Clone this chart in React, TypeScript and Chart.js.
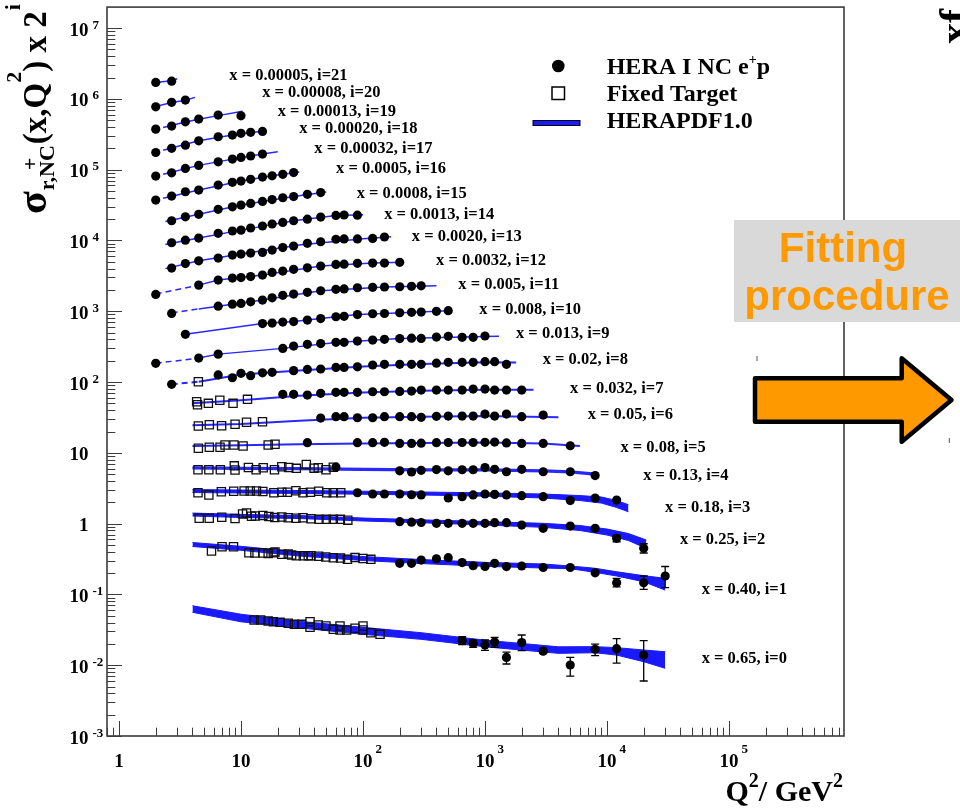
import React, { useEffect, useRef } from 'react';
import { Chart, registerables } from 'chart.js';

Chart.register(...registerables);

// ---------- axis ranges ----------
const X_MIN = 0.797;
const X_MAX = 8.77e5;
const Y_MIN = 1e-3;
const Y_MAX = 1.98e7;
const X_DECADES = [0, 1, 2, 3, 4, 5];
const Y_DECADES = [-3, -2, -1, 0, 1, 2, 3, 4, 5, 6, 7];

// ---------- HERA I NC e+p points: [Q2, sigma_r x 2^i] ----------
const hera0 = [[650, 0.0223], [800, 0.0203], [1000, 0.0193], [1200, 0.0213], [1500, 0.0129], [2000, 0.0209], [3000, 0.0158], [5000, 0.01007], [8000, 0.0168], [12000, 0.0171], [20000, 0.0139]];
const hera1 = [[200, 0.275], [250, 0.275], [300, 0.306], [400, 0.319], [500, 0.33], [650, 0.282], [800, 0.254], [1000, 0.248], [1200, 0.275], [1500, 0.247], [2000, 0.252], [3000, 0.24], [5000, 0.24], [8000, 0.202], [12000, 0.146], [20000, 0.146], [30000, 0.182]];
const hera2 = [[200, 1.064], [250, 1.047], [300, 1.037], [400, 1.01], [500, 1.01], [650, 1.01], [800, 1.01], [1000, 1.01], [1200, 1.03], [1500, 1.03], [2000, 0.955], [3000, 0.859], [5000, 0.925], [8000, 0.859], [12000, 0.62], [20000, 0.448]];
const hera3 = [[90, 2.73], [120, 2.62], [150, 2.62], [200, 2.62], [250, 2.56], [300, 2.54], [500, 2.3], [650, 2.4], [800, 2.54], [1000, 2.62], [1200, 2.59], [1500, 2.54], [2000, 2.48], [3000, 2.4], [5000, 2.12], [8000, 2.3], [12000, 2.15]];
const hera4 = [[60, 6.3], [200, 5.57], [250, 5.36], [300, 5.66], [400, 5.81], [500, 5.57], [650, 5.77], [800, 5.77], [1000, 6.2], [1200, 5.85], [1500, 5.41], [2000, 5.85], [3000, 5.41], [5000, 5.41], [8000, 4.78]];
const hera5 = [[35, 13.9], [90, 13.9], [120, 13.9], [150, 14.1], [200, 13.6], [250, 13.6], [300, 13.7], [400, 13.9], [500, 14.0], [650, 14.0], [800, 14.0], [1000, 14.1], [1200, 14.2], [1500, 13.8], [2000, 13.6], [3000, 13.6], [5000, 12.6]];
const hera6 = [[45, 31.0], [60, 32.4], [70, 32.4], [90, 31.3], [120, 31.3], [150, 32.4], [200, 32.4], [250, 32.4], [300, 31.7], [400, 32.8], [500, 33.1], [650, 33.1], [800, 33.1], [1000, 35.3], [1200, 33.1], [1500, 35.3], [2000, 32.4], [3000, 34.2]];
const hera7 = [[22, 67.0], [27, 67.0], [35, 65.5], [45, 69.2], [60, 71.5], [70, 71.5], [90, 71.5], [120, 72.9], [150, 72.9], [200, 73.8], [250, 74.6], [300, 77.1], [400, 77.1], [500, 77.1], [650, 77.1], [800, 79.6], [1000, 79.6], [1200, 77.1], [1500, 77.1], [2000, 77.1]];
const hera8 = [[2.7, 92.9], [6.5, 126], [8.5, 115], [10, 133], [12, 123], [15, 135], [18, 137], [27, 145], [35, 151], [45, 153], [60, 161], [70, 161], [90, 164], [120, 174], [150, 178], [200, 178], [250, 178], [300, 178], [400, 185], [500, 190], [650, 190], [800, 190], [1000, 194], [1200, 194], [1500, 178]];
const hera9 = [[2, 184], [4.5, 218], [6.5, 248], [22, 299], [27, 322], [35, 341], [45, 350], [60, 364], [70, 364], [90, 379], [120, 392], [150, 401], [200, 411], [250, 416], [300, 413], [400, 432], [500, 442], [650, 428], [800, 428], [1000, 447]];
const hera10 = [[3.5, 472], [15, 670], [18, 681], [22, 703], [27, 716], [35, 751], [45, 789], [60, 836], [70, 847], [90, 898], [120, 922], [150, 930], [200, 953], [250, 966], [300, 975], [400, 997], [500, 1020]];
const hera11 = [[2.7, 933], [6.5, 1180], [8.5, 1260], [10, 1290], [12, 1360], [15, 1440], [18, 1550], [22, 1680], [27, 1750], [35, 1850], [45, 1950], [60, 2040], [70, 2070], [90, 2150], [120, 2180], [150, 2200], [200, 2220], [250, 2250], [300, 2290]];
const hera12 = [[2, 1730], [4.5, 2340], [6.5, 2760], [8.5, 2940], [10, 2990], [12, 3090], [15, 3240], [18, 3540], [22, 3700], [27, 3910], [35, 4110], [45, 4350], [60, 4590], [70, 4630], [90, 4750], [120, 4790], [150, 4790], [200, 4910]];
const hera13 = [[2.7, 4070], [3.5, 4720], [4.5, 5160], [6.5, 5640], [8.5, 6220], [10, 6430], [12, 6640], [15, 6790], [18, 7310], [22, 7940], [27, 8340], [35, 9100], [45, 9590], [60, 10400], [70, 10500], [90, 10500], [120, 10700], [150, 11200]];
const hera14 = [[2.7, 9290], [3.5, 10100], [4.5, 10800], [6.5, 12600], [8.5, 13600], [10, 14000], [12, 15000], [15, 16000], [18, 17100], [22, 18000], [27, 19000], [35, 20000], [45, 21400], [60, 22600], [70, 22900], [90, 22800]];
const hera15 = [[2.7, 19000], [3.5, 21600], [4.5, 23400], [6.5, 27500], [8.5, 29900], [10, 31600], [12, 33400], [15, 35600], [18, 37800], [22, 40100], [27, 41700], [35, 44800], [45, 47500]];
const hera16 = [[2, 37200], [2.7, 42400], [3.5, 48800], [4.5, 51500], [6.5, 60600], [8.5, 66200], [10, 69000], [12, 73000], [15, 78600], [18, 82000], [22, 85900], [27, 91000]];
const hera17 = [[2, 81300], [2.7, 90400], [3.5, 104000], [4.5, 115000], [6.5, 129000], [8.5, 141000], [10, 149000], [12, 156000], [15, 166000]];
const hera18 = [[2, 175000], [2.7, 200000], [3.5, 222000], [4.5, 256000], [6.5, 292000], [8.5, 308000], [10, 326000], [12, 337000], [15, 347000]];
const hera19 = [[2, 374000], [2.7, 413000], [3.5, 475000], [4.5, 519000], [6.5, 590000], [10, 577000]];
const hera20 = [[2, 773000], [2.7, 893000], [3.5, 962000]];
const hera21 = [[2, 1710000], [2.7, 1780000]];

// ---------- error bars: [Q2, low, high] ----------
const err0 = [[650, 0.0196, 0.0253], [800, 0.0179, 0.0227], [1000, 0.0162, 0.0227], [1200, 0.0179, 0.0248], [1500, 0.0104, 0.0153], [2000, 0.0161, 0.0267], [3000, 0.0147, 0.0173], [5000, 0.00703, 0.0129], [8000, 0.0137, 0.0199], [12000, 0.0107, 0.0238], [20000, 0.00598, 0.0222]];
const err1 = [[12000, 0.128, 0.168], [20000, 0.118, 0.182], [30000, 0.125, 0.248]];
const err2 = [[12000, 0.555, 0.69], [20000, 0.385, 0.52]];

// ---------- Fixed target points: [Q2, sigma_r x 2^i] ----------
const ft0 = [[12.8, 0.0435], [14.5, 0.0435], [16.7, 0.0421], [18.4, 0.0411], [20.9, 0.0403], [24.4, 0.0391], [27.4, 0.0378], [31.4, 0.0378], [36.8, 0.0411], [36.8, 0.0343], [43.0, 0.037], [49.7, 0.0358], [57.1, 0.0321], [64.8, 0.0358], [64.8, 0.0314], [73.5, 0.0314], [86.0, 0.0332], [100, 0.0358], [100, 0.0314], [116, 0.0288], [138, 0.0273]];
const ft1 = [[5.73, 0.41], [6.99, 0.472], [8.68, 0.472], [11.6, 0.388], [13.0, 0.384], [15.1, 0.384], [16.7, 0.38], [18.4, 0.388], [19.0, 0.399], [21.6, 0.37], [24.4, 0.372], [26.0, 0.36], [28.4, 0.351], [32.4, 0.352], [35.6, 0.352], [37.5, 0.352], [43.3, 0.346], [49.5, 0.337], [57.1, 0.329], [65.4, 0.326], [74.6, 0.313], [86.0, 0.331], [100, 0.322], [116, 0.313]];
const ft2 = [[4.54, 1.19], [5.49, 1.19], [6.95, 1.23], [8.93, 1.18], [10.3, 1.37], [11.1, 1.41], [12.2, 1.27], [13.1, 1.28], [15.1, 1.3], [16.9, 1.26], [18.9, 1.22], [21.6, 1.24], [24.4, 1.21], [28.2, 1.19], [32.2, 1.21], [37.5, 1.17], [43.6, 1.15], [50.0, 1.15], [57.1, 1.15], [65.2, 1.15], [75.1, 1.12]];
const ft3 = [[4.44, 2.73], [5.45, 2.54], [6.9, 2.82], [8.71, 2.87], [10.6, 2.89], [11.9, 2.89], [13.4, 2.89], [15.1, 2.84], [18.6, 2.73], [21.6, 2.78], [24.0, 2.78], [28.2, 2.91], [32.2, 2.73], [37.1, 2.77], [43.3, 2.86], [50.4, 2.73], [57.1, 2.73], [65.7, 2.73]];
const ft4 = [[4.44, 5.77], [5.45, 5.77], [6.77, 5.77], [8.81, 6.55], [8.93, 5.71], [11.5, 6.2], [13.3, 5.77], [15.2, 6.17], [18.8, 5.77], [21.6, 6.37], [24.6, 6.2], [28.4, 6.04], [34.3, 6.84], [39.7, 6.08], [43.0, 6.17], [49.7, 5.77], [57.1, 6.25]];
const ft5 = [[4.47, 11.6], [5.5, 12.0], [6.73, 12.0], [7.39, 12.9], [8.76, 12.9], [10.4, 12.5], [16.7, 12.9], [19.0, 13.2]];
const ft6 = [[4.47, 23.9], [5.5, 24.9], [6.93, 24.1], [8.94, 25.3], [11.1, 27.0], [15.0, 27.5]];
const ft7 = [[4.33, 52.7], [4.4, 47.8], [5.4, 50.0], [6.7, 55.2], [8.6, 50.0], [11.3, 57.0]];
const ft8 = [[4.47, 101]];

// ---------- HERAPDF1.0 bands (i = 0..3): Q2, upper, lower ----------
const band0Q2 = [4, 10, 30, 100, 300, 1000, 4000, 8000, 12000, 20000, 30000];
const band0Hi = [0.0692, 0.0525, 0.0418, 0.0343, 0.0288, 0.0226, 0.0182, 0.0183, 0.0177, 0.0164, 0.0155];
const band0Lo = [0.0559, 0.041, 0.0337, 0.0273, 0.0232, 0.0182, 0.0147, 0.015, 0.0139, 0.0112, 0.00904];
const band1Q2 = [4, 10, 30, 100, 300, 1000, 3000, 5000, 8000, 12000, 20000, 30000];
const band1Hi = [0.541, 0.478, 0.397, 0.343, 0.311, 0.284, 0.269, 0.252, 0.234, 0.209, 0.184, 0.169];
const band1Lo = [0.475, 0.42, 0.349, 0.301, 0.273, 0.249, 0.236, 0.231, 0.205, 0.182, 0.151, 0.115];
const band2Q2 = [4, 10, 30, 100, 300, 1000, 3000, 6000, 10000, 15000, 21000];
const band2Hi = [1.41, 1.35, 1.3, 1.2, 1.13, 1.07, 1.01, 0.94, 0.839, 0.725, 0.587];
const band2Lo = [1.28, 1.22, 1.18, 1.09, 1.03, 0.955, 0.887, 0.8, 0.69, 0.577, 0.447];
const band3Q2 = [4, 10, 30, 100, 300, 1000, 3000, 6000, 9000, 12000, 15000];
const band3Hi = [3.03, 2.98, 2.94, 2.87, 2.8, 2.72, 2.62, 2.49, 2.38, 2.12, 1.85];
const band3Lo = [2.75, 2.71, 2.67, 2.6, 2.54, 2.44, 2.3, 2.12, 1.95, 1.69, 1.47];

// ---------- HERAPDF1.0 central curves (i = 4..21): [Q2, value] ----------
const fit4 = [[4, 6.15], [10, 6.05], [30, 6.0], [100, 5.85], [300, 5.75], [1000, 5.75], [3000, 5.55], [5000, 5.4], [8000, 5.0]];
const fit5 = [[4, 12.5], [10, 12.8], [30, 13.2], [100, 13.6], [300, 13.8], [1000, 14.0], [3000, 13.6], [6000, 12.5]];
const fit6 = [[4, 24.5], [10, 25.5], [30, 28.4], [100, 31.3], [300, 32.3], [1000, 33.2], [4000, 31.8]];
const fit7 = [[4, 50], [10, 55.5], [30, 64], [100, 71], [300, 75.5], [1000, 78], [2500, 78]];
const fit8 = [[2.7, 92.9], [4.5, 101], [10, 128], [30, 146], [100, 166], [300, 180], [1000, 190], [1800, 189]];
const fit9 = [[2, 184], [4.5, 218], [6.5, 248], [22, 299], [60, 362], [200, 411], [1000, 440], [1300, 442]];
const fit10 = [[3.5, 472], [15, 670], [27, 716], [45, 789], [90, 898], [150, 930], [500, 1020]];
const fit11 = [[2.7, 950], [4.5, 1080], [6.5, 1180], [15, 1440], [45, 1950], [150, 2200], [400, 2300]];
const fit12 = [[2, 1750], [4.5, 2340], [6.5, 2760], [15, 3240], [45, 4350], [120, 4790], [210, 4920]];
const fit13 = [[2.4, 4000], [4.5, 5160], [10, 6450], [30, 8600], [100, 10600], [170, 11300]];
const fit14 = [[2.4, 8800], [4.5, 10800], [10, 14000], [27, 19000], [60, 22600], [100, 23000]];
const fit15 = [[2.4, 18500], [4.5, 23400], [10, 31600], [27, 41700], [50, 48500]];
const fit16 = [[2.3, 39500], [4.5, 51500], [10, 69000], [18, 82000], [30, 93000]];
const fit17 = [[2.3, 86000], [4.5, 115000], [8.5, 141000], [15, 166000], [20, 179000]];
const fit18 = [[2.3, 188000], [4.5, 256000], [8.5, 308000], [16, 355000]];
const fit19 = [[2.3, 395000], [3.5, 470000], [4.5, 515000], [6.5, 580000], [10.3, 670000]];
const fit20 = [[2, 780000], [2.7, 890000], [3.5, 960000], [4.2, 1050000]];
const fit21 = [[2, 1710000], [2.7, 1800000], [3.0, 1930000]];

// ---------- series labels ----------
const seriesX = ['0.65', '0.40', '0.25', '0.18', '0.13', '0.08', '0.05', '0.032', '0.02', '0.013', '0.008', '0.005', '0.0032', '0.0020', '0.0013', '0.0008', '0.0005', '0.00032', '0.00020', '0.00013', '0.00008', '0.00005'];
const labelQ2 = [59700, 59700, 39600, 29900, 19800, 12900, 6950, 4977, 2972, 1795, 898, 604, 397, 251, 149, 88.8, 60.1, 39.9, 30.0, 20.0, 14.9, 8.02];
const labelVal = [0.01225, 0.115, 0.586, 1.68, 4.7, 11.8, 35.0, 81.5, 205, 476, 1040, 2340, 5160, 11300, 23400, 46200, 104000, 195000, 374000, 658000, 1240000, 2100000];

const legendNames = ['HERA I NC e', 'Fixed Target', 'HERAPDF1.0'];

// ---------- styling ----------
const SERIF = '"Liberation Serif", "Times New Roman", serif';
const LINE = 'rgb(40,40,255)';
const BAND = 'rgb(25,25,250)';
const AXIS = '#3c3c3c';

const HERA = [hera0, hera1, hera2, hera3, hera4, hera5, hera6, hera7, hera8, hera9, hera10, hera11, hera12, hera13, hera14, hera15, hera16, hera17, hera18, hera19, hera20, hera21];
const FITS: (number[][] | null)[] = [null, null, null, null, fit4, fit5, fit6, fit7, fit8, fit9, fit10, fit11, fit12, fit13, fit14, fit15, fit16, fit17, fit18, fit19, fit20, fit21];
const FT = [ft0, ft1, ft2, ft3, ft4, ft5, ft6, ft7, ft8];
const BANDS = [
  { q: band0Q2, hi: band0Hi, lo: band0Lo },
  { q: band1Q2, hi: band1Hi, lo: band1Lo },
  { q: band2Q2, hi: band2Hi, lo: band2Lo },
  { q: band3Q2, hi: band3Hi, lo: band3Lo },
];
const ERRS = [err0, err1, err2];

const pts = (a: number[][]) => a.map(([x, y]) => ({ x, y }));
const zip = (q: number[], v: number[]) => q.map((x, k) => ({ x, y: v[k] }));
const font = (s: number) => `bold ${s}px ${SERIF}`;

function buildDatasets() {
  const ds: any[] = [];
  BANDS.forEach((b) => {
    ds.push({ data: zip(b.q, b.hi), showLine: true, pointRadius: 0, borderColor: BAND, borderWidth: 1, fill: false, order: 5 });
    ds.push({ data: zip(b.q, b.lo), showLine: true, pointRadius: 0, borderColor: BAND, borderWidth: 1, backgroundColor: BAND, fill: '-1', order: 5 });
  });
  FITS.forEach((f, i) => {
    if (!f) return;
    const dashed = i >= 8 && i <= 12;
    ds.push({
      data: pts(f), showLine: true, pointRadius: 0, borderColor: LINE, fill: false, order: 4,
      borderWidth: i === 4 ? 3.2 : i <= 8 ? 2 : 1.5,
      segment: { borderDash: (c: any) => (dashed && c.p1.parsed.x <= 4.55 ? [6, 4] : undefined) },
    });
  });
  FT.forEach((f) => ds.push({ data: pts(f), pointStyle: 'rect', pointRadius: 5.8, borderColor: '#111', borderWidth: 1.3, backgroundColor: 'rgba(255,255,255,0)', order: 2 }));
  HERA.forEach((h) => ds.push({ data: pts(h), pointStyle: 'circle', pointRadius: 4.6, backgroundColor: '#000', borderColor: '#000', borderWidth: 0, order: 1 }));
  return ds;
}

function drawAxes(chart: any) {
  const ctx = chart.ctx;
  const xs = chart.scales.x;
  const ys = chart.scales.y;
  const ca = chart.chartArea;
  ctx.save();
  ctx.strokeStyle = AXIS;
  ctx.lineWidth = 1;
  // x ticks
  for (let k = -1; k <= 6; k++) {
    for (let m = 1; m <= 9; m++) {
      const v = m * Math.pow(10, k);
      if (v < X_MIN || v > X_MAX) continue;
      const px = Math.round(xs.getPixelForValue(v)) + 0.5;
      const len = m === 1 ? 15 : 8.3;
      ctx.beginPath();
      ctx.moveTo(px, ca.bottom);
      ctx.lineTo(px, ca.bottom - len);
      ctx.stroke();
    }
  }
  // y ticks
  for (let k = -3; k <= 7; k++) {
    for (let m = 1; m <= 9; m++) {
      const v = m * Math.pow(10, k);
      if (v < Y_MIN || v > Y_MAX) continue;
      const py = Math.round(ys.getPixelForValue(v)) + 0.5;
      const len = m === 1 ? 15 : 8.3;
      ctx.beginPath();
      ctx.moveTo(ca.left, py);
      ctx.lineTo(ca.left + len, py);
      ctx.stroke();
    }
  }
  // frame
  ctx.lineWidth = 1.6;
  ctx.strokeRect(ca.left, ca.top, ca.right - ca.left, ca.bottom - ca.top);

  // tick labels
  ctx.fillStyle = '#000';
  ctx.textBaseline = 'alphabetic';
  Y_DECADES.forEach((k) => {
    const py = ys.getPixelForValue(Math.pow(10, k));
    ctx.font = font(19);
    ctx.textAlign = 'right';
    ctx.fillText(k === 0 ? '1' : '10', 88.5, py + 7.5);
    if (k !== 0 && k !== 1) {
      ctx.font = font(13);
      ctx.textAlign = 'left';
      ctx.fillText(String(k), 92.5, py + 0.5);
    }
  });
  X_DECADES.forEach((k) => {
    const px = xs.getPixelForValue(Math.pow(10, k));
    ctx.font = font(19);
    ctx.textAlign = 'center';
    ctx.fillText(k === 0 ? '1' : '10', px, 767);
    if (k > 1) {
      ctx.font = font(13);
      ctx.textAlign = 'left';
      ctx.fillText(String(k), px + 12.5, 753);
    }
  });

  // x title: Q^2/ GeV^2, right aligned
  const parts = [
    { t: 'Q', s: 30, dy: 0 },
    { t: '2', s: 20, dy: -14 },
    { t: '/ GeV', s: 30, dy: 0 },
    { t: '2', s: 20, dy: -14 },
  ];
  let w = 0;
  parts.forEach((p) => { ctx.font = font(p.s); w += ctx.measureText(p.t).width; });
  let cx = 843 - w;
  ctx.textAlign = 'left';
  parts.forEach((p) => { ctx.font = font(p.s); ctx.fillText(p.t, cx, 801 + p.dy); cx += ctx.measureText(p.t).width; });

  // y title (rotated)
  ctx.translate(46, 214);
  ctx.rotate(-Math.PI / 2);
  cx = 0;
  ctx.font = font(42);
  ctx.fillText('σ', cx, 0);
  cx += ctx.measureText('σ').width + 1;
  ctx.font = font(22);
  const w2 = ctx.measureText('r,NC').width;
  ctx.fillText('r,NC', cx, 8);
  ctx.fillText('+', cx + 20, -9);
  cx += w2 + 1;
  ctx.font = font(33);
  ctx.fillText('(x,Q', cx, 0);
  cx += ctx.measureText('(x,Q').width;
  ctx.font = font(22);
  ctx.fillText('2', cx, -25);
  cx += ctx.measureText('2').width;
  ctx.font = font(33);
  ctx.fillText(') x 2', cx, 0);
  cx += ctx.measureText(') x 2').width;
  ctx.font = font(22);
  ctx.fillText('i', cx + 1, -26);
  ctx.restore();
}

function drawOverlays(chart: any) {
  const ctx = chart.ctx;
  const xs = chart.scales.x;
  const ys = chart.scales.y;
  ctx.save();
  // error bars
  ctx.strokeStyle = '#000';
  ctx.lineWidth = 1.3;
  ERRS.forEach((e) => {
    e.forEach(([q, lo, hi]) => {
      const px = xs.getPixelForValue(q);
      const y1 = ys.getPixelForValue(lo);
      const y2 = ys.getPixelForValue(hi);
      ctx.beginPath();
      ctx.moveTo(px, y1); ctx.lineTo(px, y2);
      ctx.moveTo(px - 4, y1); ctx.lineTo(px + 4, y1);
      ctx.moveTo(px - 4, y2); ctx.lineTo(px + 4, y2);
      ctx.stroke();
    });
  });

  // series labels
  ctx.fillStyle = '#000';
  ctx.font = font(16.5);
  ctx.textAlign = 'left';
  ctx.textBaseline = 'middle';
  seriesX.forEach((xv, i) => {
    ctx.fillText(`x = ${xv}, i=${i}`, xs.getPixelForValue(labelQ2[i]), ys.getPixelForValue(labelVal[i]));
  });

  // legend
  ctx.textBaseline = 'alphabetic';
  ctx.beginPath();
  ctx.arc(558.3, 66, 6.3, 0, Math.PI * 2);
  ctx.fill();
  ctx.lineWidth = 1.5;
  ctx.strokeStyle = '#000';
  ctx.strokeRect(552, 87, 12.5, 12.5);
  ctx.fillStyle = BAND;
  ctx.fillRect(533, 120.5, 47, 5);
  ctx.lineWidth = 1;
  ctx.strokeRect(533, 120.5, 47, 5);
  ctx.fillStyle = '#000';
  ctx.font = font(24);
  ctx.fillText(legendNames[0], 606.7, 74);
  let lx = 606.7 + ctx.measureText(legendNames[0]).width;
  ctx.font = font(14);
  ctx.fillText('+', lx, 64);
  lx += ctx.measureText('+').width;
  ctx.font = font(24);
  ctx.fillText('p', lx, 74);
  ctx.fillText(legendNames[1], 606.7, 101);
  ctx.fillText(legendNames[2], 606.7, 127.5);
  ctx.restore();
}

function drawSide(chart: any) {
  const ctx = chart.ctx;
  ctx.save();
  // grey box with text
  ctx.fillStyle = '#d9d9d9';
  ctx.fillRect(734, 220, 226, 102);
  ctx.fillStyle = '#ff9900';
  ctx.font = 'bold 42px "Liberation Sans", Arial, sans-serif';
  ctx.textAlign = 'center';
  ctx.textBaseline = 'alphabetic';
  ctx.fillText('Fitting', 843, 262);
  ctx.fillText('procedure', 847, 310);
  // arrow
  ctx.beginPath();
  ctx.moveTo(755, 378.3);
  ctx.lineTo(901.7, 378.3);
  ctx.lineTo(901.7, 358.3);
  ctx.lineTo(951.5, 400);
  ctx.lineTo(901.7, 441.7);
  ctx.lineTo(901.7, 421.7);
  ctx.lineTo(755, 421.7);
  ctx.closePath();
  ctx.fillStyle = '#ff9900';
  ctx.fill();
  ctx.lineWidth = 4.5;
  ctx.lineJoin = 'round';
  ctx.strokeStyle = '#000';
  ctx.stroke();
  // small marks
  ctx.fillStyle = '#555';
  ctx.fillRect(756.5, 356, 1, 5);
  ctx.fillRect(948.8, 438, 1, 5);
  // clipped rotated text at the right edge
  ctx.translate(968, 44);
  ctx.rotate(-Math.PI / 2);
  ctx.fillStyle = '#000';
  ctx.font = font(42);
  ctx.textAlign = 'left';
  ctx.fillText('xf', 0, 0);
  ctx.restore();
}

const decorPlugin = {
  id: 'decor',
  afterDatasetsDraw(chart: any) {
    drawAxes(chart);
    drawOverlays(chart);
  },
  afterDraw(chart: any) {
    drawSide(chart);
  },
};

export default function App() {
  const ref = useRef<HTMLCanvasElement>(null);
  useEffect(() => {
    if (!ref.current) return;
    const chart = new Chart(ref.current, {
      type: 'scatter',
      data: { datasets: buildDatasets() },
      options: {
        animation: false,
        responsive: false,
        maintainAspectRatio: false,
        devicePixelRatio: 1,
        events: [],
        layout: { padding: { left: 107, right: 116, top: 7, bottom: 74 } },
        plugins: { legend: { display: false }, tooltip: { enabled: false } },
        scales: {
          x: { type: 'logarithmic', min: X_MIN, max: X_MAX, display: false },
          y: { type: 'logarithmic', min: Y_MIN, max: Y_MAX, display: false },
        },
      },
      plugins: [decorPlugin],
    } as any);
    return () => chart.destroy();
  }, []);
  return (
    <div style={{ position: 'absolute', left: 0, top: 0, width: 960, height: 810, background: '#fff', overflow: 'hidden' }}>
      <canvas ref={ref} width={960} height={810} style={{ display: 'block', width: 960, height: 810 }} />
    </div>
  );
}
